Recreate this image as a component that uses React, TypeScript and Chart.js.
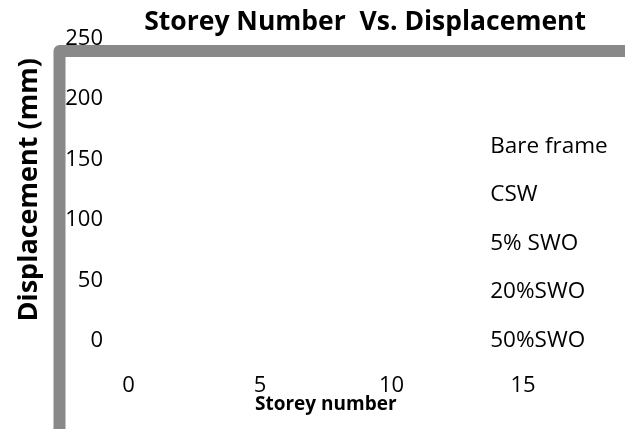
import React, { useEffect, useRef } from 'react';
import { Chart, registerables } from 'chart.js';

Chart.register(...registerables);

// ---- chart text ----
const TITLE = 'Storey Number  Vs. Displacement';
const X_TITLE = 'Storey number';
const Y_TITLE = 'Displacement (mm)';

// ---- axes ----
const xMin = 0;
const xMax = 15;
const xStep = 5;
const yMin = 0;
const yMax = 250;
const yStep = 50;

// ---- series (no plotted values are visible in the reference) ----
const seriesNames = ['Bare frame', 'CSW', '5% SWO', '20%SWO', '50%SWO'];
const bareFrame: { x: number; y: number }[] = [];
const csw: { x: number; y: number }[] = [];
const swo5: { x: number; y: number }[] = [];
const swo20: { x: number; y: number }[] = [];
const swo50: { x: number; y: number }[] = [];
const seriesValues = [bareFrame, csw, swo5, swo20, swo50];

const FONT = "'Open Sans', sans-serif";

const framePlugin = {
  id: 'frame',
  beforeDraw(chart: any) {
    const ctx = chart.ctx;
    ctx.save();
    ctx.strokeStyle = '#898989';
    ctx.lineWidth = 12;
    ctx.lineJoin = 'round';
    ctx.beginPath();
    ctx.moveTo(59.5, chart.height + 20);
    ctx.lineTo(59.5, 51);
    ctx.lineTo(chart.width + 20, 51);
    ctx.stroke();
    ctx.restore();
  },
};

const legendPlacer = {
  id: 'legendPlacer',
  afterLayout(chart: any) {
    const lg = chart.legend;
    if (!lg) return;
    lg.left = 453;
    lg.top = 109;
    lg.right = chart.width;
    lg.bottom = chart.height;
    lg.width = lg.right - lg.left;
    lg.height = lg.bottom - lg.top;
  },
};

export default function App() {
  const ref = useRef<HTMLCanvasElement | null>(null);

  useEffect(() => {
    if (!ref.current) return;
    const chart = new Chart(ref.current, {
      type: 'line',
      data: {
        datasets: seriesNames.map((name, i) => ({
          label: name,
          data: seriesValues[i],
          borderColor: 'rgba(0,0,0,0)',
          backgroundColor: 'rgba(0,0,0,0)',
          borderWidth: 0,
          pointRadius: 0,
        })),
      },
      plugins: [framePlugin, legendPlacer],
      options: {
        animation: false,
        responsive: true,
        maintainAspectRatio: false,
        color: '#000',
        layout: { padding: { left: 0, right: 39, top: 0, bottom: 0 } },
        plugins: {
          title: {
            display: true,
            text: TITLE,
            align: 'end',
            color: '#000',
            font: { family: FONT, size: 26.5, weight: 'bold' },
            padding: { top: 4, bottom: 0 },
          },
          legend: {
            display: true,
            position: 'chartArea',
            align: 'start',
            labels: {
              boxWidth: 0,
              boxHeight: 22,
              padding: 26,
              color: '#000',
              font: { family: FONT, size: 22.5 },
            },
          },
          tooltip: { enabled: false },
        },
        scales: {
          x: {
            type: 'linear',
            position: 'bottom',
            min: xMin,
            max: xMax,
            grid: { display: false, drawTicks: false },
            border: { display: false },
            ticks: {
              stepSize: xStep,
              padding: 32,
              color: '#000',
              font: { family: FONT, size: 22 },
            },
            title: {
              display: true,
              text: X_TITLE,
              color: '#000',
              font: { family: FONT, size: 19, weight: 'bold' },
              padding: { top: 0, bottom: 13 },
            },
            afterFit: (s: any) => {
              s.height = 88;
            },
          },
          y: {
            type: 'linear',
            position: 'left',
            min: yMin,
            max: yMax,
            grid: { display: false, drawTicks: false },
            border: { display: false },
            ticks: {
              stepSize: yStep,
              padding: 25.5,
              color: '#000',
              font: { family: FONT, size: 22 },
            },
            title: {
              display: true,
              text: Y_TITLE,
              color: '#000',
              font: { family: FONT, size: 27, weight: 'bold' },
              padding: { top: 13, bottom: 0 },
            },
            afterFit: (s: any) => {
              s.width = 128.5;
            },
          },
          yRight: {
            type: 'linear',
            axis: 'y',
            position: 'right',
            display: true,
            grid: { display: false, drawTicks: false },
            border: { display: false },
            ticks: { display: false },
            afterFit: (s: any) => {
              s.width = 63;
            },
          },
        },
      } as any,
    });
    return () => chart.destroy();
  }, []);

  return (
    <div style={{ position: 'fixed', left: 0, top: 0, width: 625, height: 429, background: '#fff' }}>
      <canvas ref={ref} />
    </div>
  );
}
